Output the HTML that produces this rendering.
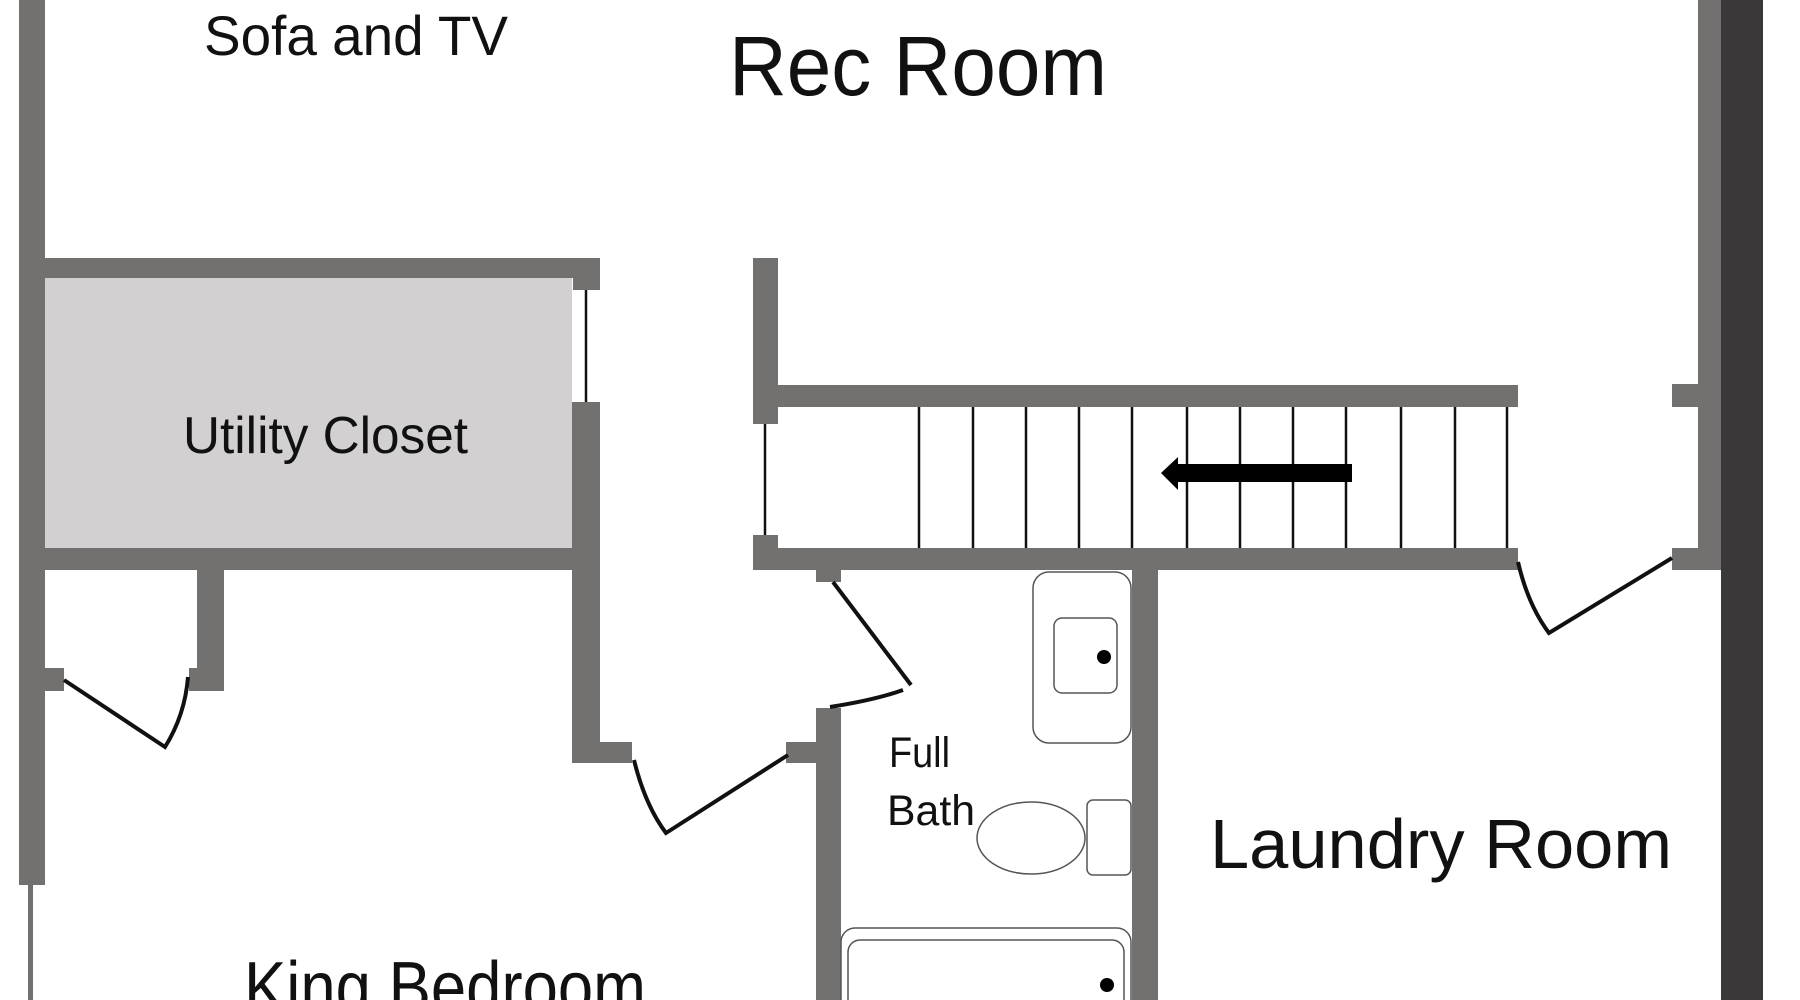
<!DOCTYPE html>
<html><head><meta charset="utf-8"><style>
html,body{margin:0;padding:0;background:#fff;width:1800px;height:1000px;overflow:hidden}
svg{display:block}
text{font-family:"Liberation Sans",sans-serif;fill:#111}
</style></head><body>
<svg width="1800" height="1000" viewBox="0 0 1800 1000" xmlns="http://www.w3.org/2000/svg">
<rect width="1800" height="1000" fill="#fff"/>
<!-- utility closet fill -->
<rect x="45" y="278" width="527" height="270" fill="#d2d0d0"/>
<g fill="#737070">
<!-- left wall -->
<rect x="19" y="0" width="26" height="885"/>
<rect x="28" y="885" width="5" height="115"/>
<!-- utility top -->
<rect x="45" y="258" width="555" height="20"/>
<rect x="573" y="258" width="27" height="32"/>
<!-- utility right wall -->
<rect x="572" y="402" width="28" height="361"/>
<rect x="572" y="742" width="60" height="21"/>
<!-- utility bottom -->
<rect x="19" y="548" width="581" height="22"/>
<!-- small closet -->
<rect x="197" y="570" width="27" height="121"/>
<rect x="189" y="668" width="35" height="23"/>
<rect x="45" y="668" width="19" height="23"/>
<!-- stair -->
<rect x="753" y="258" width="25" height="166"/>
<rect x="778" y="385" width="740" height="22"/>
<rect x="753" y="535" width="25" height="35"/>
<rect x="753" y="548" width="765" height="22"/>
<!-- right -->
<rect x="1672" y="384" width="30" height="23"/>
<rect x="1698" y="0" width="23" height="570"/>
<rect x="1672" y="548" width="49" height="22"/>
<!-- bath -->
<rect x="816" y="570" width="25" height="12"/>
<rect x="816" y="708" width="25" height="292"/>
<rect x="786" y="742" width="30" height="21"/>
<rect x="1132" y="570" width="26" height="430"/>
</g>
<rect x="1721" y="0" width="42" height="1000" fill="#3a3838"/>
<!-- thin lines -->
<g stroke="#111" stroke-width="2.5" fill="none">
<line x1="586" y1="290" x2="586" y2="402"/>
<line x1="765" y1="424" x2="765" y2="535"/>
<line x1="919" y1="407" x2="919" y2="548"/>
<line x1="973" y1="407" x2="973" y2="548"/>
<line x1="1026" y1="407" x2="1026" y2="548"/>
<line x1="1079" y1="407" x2="1079" y2="548"/>
<line x1="1132" y1="407" x2="1132" y2="548"/>
<line x1="1187" y1="407" x2="1187" y2="548"/>
<line x1="1240" y1="407" x2="1240" y2="548"/>
<line x1="1293" y1="407" x2="1293" y2="548"/>
<line x1="1346" y1="407" x2="1346" y2="548"/>
<line x1="1401" y1="407" x2="1401" y2="548"/>
<line x1="1455" y1="407" x2="1455" y2="548"/>
<line x1="1507" y1="407" x2="1507" y2="548"/>
</g>
<!-- doors -->
<g stroke="#111" stroke-width="4" fill="none">
<path d="M64 680 L165 747 Q185 715 188 677"/>
<path d="M634 760 Q645 805 666 833 L788 755"/>
<path d="M833 582 L911 685"/>
<path d="M830 707 Q875 700 903 690"/>
<path d="M1518 562 Q1528 605 1549 633 L1672 558"/>
</g>
<!-- arrow -->
<polygon points="1161,473 1178,457 1178,464 1352,464 1352,482 1178,482 1178,490" fill="#000"/>
<!-- fixtures -->
<g stroke="#555" stroke-width="1.5" fill="none">
<rect x="1033" y="572" width="98" height="171" rx="16"/>
<rect x="1054" y="618" width="63" height="75" rx="8"/>
<ellipse cx="1031" cy="838" rx="54" ry="36"/>
<rect x="1087" y="800" width="44" height="75" rx="6"/>
<rect x="841" y="928" width="290" height="90" rx="14"/>
<rect x="848" y="940" width="276" height="80" rx="12"/>
</g>
<circle cx="1104" cy="657" r="7" fill="#000"/>
<circle cx="1107" cy="985" r="7" fill="#000"/>
<!-- labels -->
<text x="204" y="55" font-size="56" textLength="304" lengthAdjust="spacingAndGlyphs">Sofa and TV</text>
<text x="729" y="95" font-size="84" textLength="378" lengthAdjust="spacingAndGlyphs">Rec Room</text>
<text x="183" y="453" font-size="52" textLength="285" lengthAdjust="spacingAndGlyphs">Utility Closet</text>
<text x="889" y="767" font-size="43" textLength="61" lengthAdjust="spacingAndGlyphs">Full</text>
<text x="887" y="825" font-size="43" textLength="88" lengthAdjust="spacingAndGlyphs">Bath</text>
<text x="1210" y="868" font-size="70" textLength="462" lengthAdjust="spacingAndGlyphs">Laundry Room</text>
<text x="244" y="1012" font-size="72" textLength="402" lengthAdjust="spacingAndGlyphs">King Bedroom</text>
</svg>
</body></html>
